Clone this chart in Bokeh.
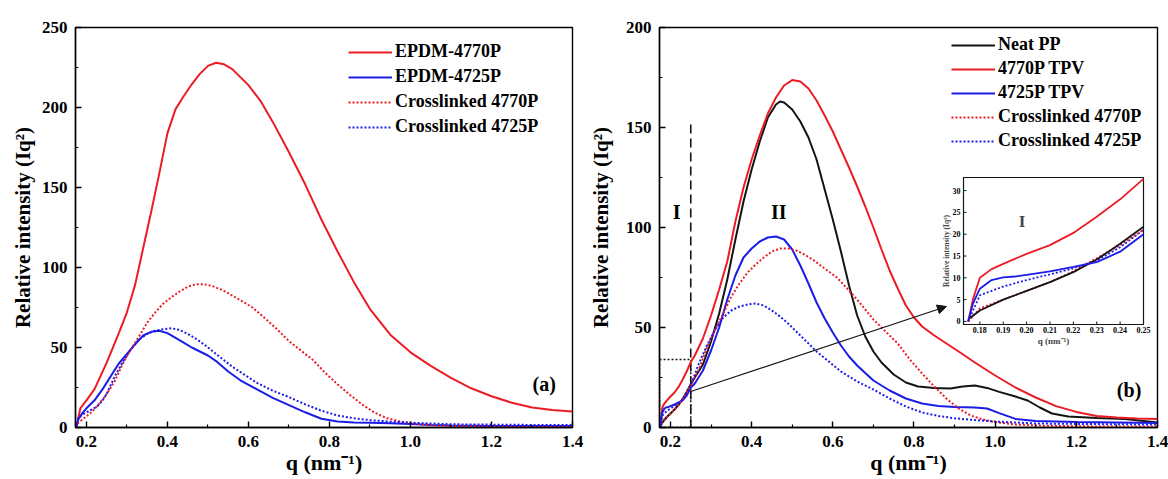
import math
from bokeh.plotting import figure
from bokeh.models import (Range1d, Legend, LegendItem, Label, Arrow, NormalHead,
                          FixedTicker, NumeralTickFormatter, ColumnDataSource)
from bokeh.layouts import row
from bokeh.core.properties import value
from bokeh.embed import file_html
from bokeh.resources import INLINE

# ---------------- data ----------------
# panel (a)
Q_EPDM_70 = [0.175, 0.185, 0.20, 0.22, 0.25, 0.28, 0.30, 0.32, 0.34, 0.36, 0.38, 0.40, 0.42, 0.44,
             0.46, 0.48, 0.50, 0.52, 0.54, 0.56, 0.58, 0.60, 0.63, 0.66, 0.70, 0.74, 0.78, 0.82,
             0.86, 0.90, 0.95, 1.00, 1.05, 1.10, 1.15, 1.20, 1.25, 1.30, 1.35, 1.40]
I_EPDM_70 = [0, 12, 17, 24, 40.5, 59, 72, 89, 112, 135, 159, 184, 199, 207,
             214.5, 221, 226, 228, 227, 224, 219, 214, 204, 191, 172, 152, 130, 110,
             91, 74, 58, 47, 38.5, 31, 24.5, 19.5, 15.5, 12.5, 11, 10]

Q_EPDM_25 = [0.175, 0.18, 0.19, 0.20, 0.22, 0.24, 0.26, 0.28, 0.30, 0.32, 0.34, 0.36, 0.38, 0.40,
             0.42, 0.44, 0.46, 0.48, 0.50, 0.52, 0.55, 0.58, 0.62, 0.66, 0.70, 0.74, 0.78, 0.82,
             0.86, 0.90, 0.95, 1.00, 1.05, 1.10, 1.20, 1.30, 1.40]
I_EPDM_25 = [0, 5, 9, 12, 17, 24, 32, 40, 46, 52, 57.5, 59.8, 60.5, 59,
             56, 53, 50, 47.5, 45, 41.5, 35, 29.5, 24, 18.5, 14, 9.5, 5.5, 3.8,
             3.2, 3, 2.6, 2.2, 1.6, 1.2, 1, 1, 1]

# crosslinked rubbers (both panels)
Q_XL_70 = [0.175, 0.18, 0.19, 0.20, 0.21, 0.22, 0.23, 0.24, 0.25, 0.27, 0.29, 0.31, 0.33, 0.35,
           0.37, 0.39, 0.41, 0.43, 0.45, 0.47, 0.49, 0.51, 0.53, 0.55, 0.58, 0.61, 0.64, 0.67,
           0.70, 0.73, 0.76, 0.79, 0.82, 0.85, 0.88, 0.91, 0.94, 0.97, 1.00, 1.05, 1.10, 1.20,
           1.30, 1.40]
I_XL_70 = [0, 3, 5, 7, 9, 11.5, 14.5, 17.5, 21, 29, 40, 49, 57, 65.5,
           72, 77.5, 81.5, 85, 88, 89.5, 89.5, 88.5, 86.5, 84, 79.5, 75, 68.5, 61.5,
           54, 48, 42, 34, 27, 20.5, 14.5, 9.5, 6, 4, 2.7, 1.5, 1, 0.6,
           0.5, 0.5]

Q_XL_25 = [0.175, 0.18, 0.19, 0.20, 0.21, 0.22, 0.23, 0.24, 0.25, 0.27, 0.29, 0.31, 0.33, 0.35,
           0.37, 0.39, 0.41, 0.43, 0.45, 0.47, 0.49, 0.51, 0.53, 0.56, 0.59, 0.62, 0.66, 0.70,
           0.74, 0.78, 0.82, 0.86, 0.90, 0.95, 1.00, 1.10, 1.20, 1.30, 1.40]
I_XL_25 = [0, 6, 8, 9.5, 10.8, 12.2, 14, 17, 21, 32, 41, 49, 55, 58.5,
           60.5, 61.5, 62, 61, 58.5, 55.5, 52, 48, 44, 38, 33, 28, 23, 19,
           14.5, 10.5, 7.5, 5.8, 4.6, 3.7, 3, 2, 1.8, 1.6, 1.5]

# panel (b)
Q_PP = [0.175, 0.18, 0.19, 0.20, 0.21, 0.22, 0.23, 0.24, 0.25, 0.26, 0.28, 0.30, 0.32, 0.34,
        0.36, 0.38, 0.40, 0.42, 0.44, 0.46, 0.47, 0.48, 0.50, 0.52, 0.54, 0.56, 0.58, 0.60,
        0.62, 0.64, 0.66, 0.68, 0.70, 0.72, 0.75, 0.78, 0.81, 0.85, 0.89, 0.92, 0.95, 0.98,
        1.01, 1.05, 1.08, 1.11, 1.14, 1.18, 1.25, 1.32, 1.40]
I_PP = [0.5, 2.5, 5, 7, 9, 11.3, 14.2, 17.8, 21.7, 25, 31.5, 43, 57, 74,
        94, 113, 129, 143, 155, 161.5, 163, 162.5, 159, 153, 145, 134, 119, 104,
        88, 71, 56, 45.5, 38, 32.5, 26.5, 22.5, 20.5, 19.7, 19.5, 20.5, 21, 19.8,
        17.8, 15.5, 13.5, 10, 7, 5.5, 4.8, 4.2, 2.5]

Q_TPV_70 = [0.175, 0.177, 0.18, 0.185, 0.19, 0.20, 0.21, 0.22, 0.23, 0.24, 0.25, 0.26, 0.28, 0.30,
            0.32, 0.34, 0.36, 0.38, 0.40, 0.42, 0.44, 0.46, 0.48, 0.50, 0.52, 0.54, 0.56, 0.58,
            0.60, 0.62, 0.64, 0.66, 0.68, 0.70, 0.72, 0.74, 0.76, 0.78, 0.80, 0.82, 0.85, 0.88,
            0.91, 0.95, 1.00, 1.05, 1.10, 1.15, 1.20, 1.25, 1.30, 1.35, 1.40]
I_TPV_70 = [0, 5, 10, 12, 13.2, 15.5, 17.5, 20.3, 24, 28, 32.7, 36, 44.5, 56,
            69, 83, 103, 120, 134, 146, 157, 165, 171, 173.7, 173, 169.5, 163.5, 156,
            148, 139, 130, 120.5, 110.5, 100, 89, 78.5, 69.5, 61, 55, 50.5, 46, 42,
            38, 32.5, 26, 20, 15, 10.7, 7.8, 5.8, 5, 4.5, 4.2]

Q_TPV_25 = [0.175, 0.177, 0.18, 0.185, 0.19, 0.195, 0.20, 0.21, 0.22, 0.23, 0.24, 0.25, 0.26, 0.28,
            0.30, 0.32, 0.34, 0.36, 0.38, 0.40, 0.42, 0.44, 0.46, 0.48, 0.50, 0.52, 0.54, 0.56,
            0.58, 0.60, 0.62, 0.64, 0.66, 0.70, 0.74, 0.78, 0.82, 0.86, 0.90, 0.95, 0.98, 1.01,
            1.05, 1.10, 1.20, 1.30, 1.40]
I_TPV_25 = [0, 4, 7.5, 9.5, 10.1, 10.3, 10.7, 11.5, 12.5, 13.6, 16, 20, 22, 28.5,
            38.5, 50, 64, 76, 85, 89.5, 93, 95, 95.5, 94, 89, 81, 72, 62.5,
            54.5, 47.5, 41, 35.5, 31, 23.5, 18.5, 14.5, 12, 10.8, 10.2, 10, 9.5, 7.2,
            4.3, 3.2, 2.8, 2.5, 2.2]

# axes / ticks
X_RANGE = (0.173, 1.4)
X_TICKS = [0.2, 0.4, 0.6, 0.8, 1.0, 1.2, 1.4]
X_MINOR = [0.3, 0.5, 0.7, 0.9, 1.1, 1.3]
YA_RANGE = (0, 250)
YA_TICKS = [0, 50, 100, 150, 200, 250]
YA_MINOR = [25, 75, 125, 175, 225]
YB_RANGE = (0, 200)
YB_TICKS = [0, 50, 100, 150, 200]
YB_MINOR = [25, 75, 125, 175]
INSET_X_RANGE = (0.173, 0.25)
INSET_Y_RANGE = (-0.7, 33)
INSET_X_TICKS = [0.18, 0.19, 0.20, 0.21, 0.22, 0.23, 0.24, 0.25]
INSET_Y_TICKS = [0, 5, 10, 15, 20, 25, 30]

# annotations (panel b)
ZOOM_Q = (0.173, 0.25)
ZOOM_TOP = 34
DASH_TOP = 153
ARROW = (0.25, 18, 0.88, 60.5)

# ---------------- style ----------------
FONT = "Liberation Serif"
RED = "#ec1c24"
BLUE = "#1c1ce8"
BLACK = "#141414"
XLABEL = "q (nm\u207b\u00b9)"
YLABEL = "Relative intensity (Iq\u00b2)"
FH = 400


def style(p, yt, ym, ylab_standoff):
    p.outline_line_color = "black"
    p.outline_line_width = 1.4
    p.outline_line_alpha = 1.0
    p.xgrid.visible = False
    p.ygrid.visible = False
    p.xaxis.ticker = FixedTicker(ticks=X_TICKS, minor_ticks=X_MINOR)
    p.yaxis.ticker = FixedTicker(ticks=yt, minor_ticks=ym)
    p.xaxis.formatter = NumeralTickFormatter(format="0.0")
    p.yaxis.formatter = NumeralTickFormatter(format="0")
    for ax in list(p.xaxis) + list(p.yaxis):
        ax.axis_line_width = 1.4
        ax.axis_line_color = "black"
        ax.major_tick_line_width = 1.4
        ax.minor_tick_line_width = 1.2
        ax.major_tick_in = 6
        ax.major_tick_out = 0
        ax.minor_tick_in = 3
        ax.minor_tick_out = 0
        ax.major_label_text_font = FONT
        ax.major_label_text_font_size = "17px"
        ax.major_label_text_font_style = "bold"
        ax.major_label_text_color = "black"
        ax.axis_label_text_font = FONT
        ax.axis_label_text_font_style = "bold"
        ax.axis_label_text_color = "black"
    p.xaxis.axis_label = XLABEL
    p.xaxis.axis_label_text_font_size = "22px"
    p.xaxis.major_label_standoff = 8
    p.xaxis.axis_label_standoff = 0
    p.yaxis.axis_label = YLABEL
    p.yaxis.axis_label_text_font_size = "21px"
    p.yaxis.major_label_standoff = 8
    p.yaxis.axis_label_standoff = ylab_standoff


def make_legend(items, x, y_bottom, pitch_h, spacing):
    return Legend(items=items, location=(x, y_bottom), orientation="vertical",
                  background_fill_alpha=0, border_line_alpha=0, padding=0, margin=0,
                  spacing=spacing, label_height=pitch_h, glyph_height=pitch_h,
                  glyph_width=44, label_standoff=3,
                  label_text_font=FONT, label_text_font_size="18px",
                  label_text_font_style="bold", label_text_color="black")


def tag(p, x, y, text, size, **kw):
    p.add_layout(Label(x=x, y=y, text=text, text_font=FONT, text_font_size=size,
                       text_font_style="bold", text_color="black",
                       text_align="center", text_baseline="middle", **kw))


# ---------------- panel (a) ----------------
pa = figure(frame_width=497, frame_height=FH, min_border_left=75, min_border_right=12,
            min_border_top=27, min_border_bottom=51, title=None,
            x_range=Range1d(*X_RANGE), y_range=Range1d(*YA_RANGE),
            output_backend="svg", toolbar_location=None)
style(pa, YA_TICKS, YA_MINOR, 4)

ra1 = pa.line(Q_EPDM_70, I_EPDM_70, line_color=RED, line_width=2)
ra2 = pa.line(Q_EPDM_25, I_EPDM_25, line_color=BLUE, line_width=2)
ra3 = pa.line(Q_XL_70, I_XL_70, line_color=RED, line_width=2, line_dash="2 2")
ra4 = pa.line(Q_XL_25, I_XL_25, line_color=BLUE, line_width=2, line_dash="2 2")

la = make_legend([LegendItem(label="EPDM-4770P", renderers=[ra1]),
                  LegendItem(label="EPDM-4725P", renderers=[ra2]),
                  LegendItem(label="Crosslinked 4770P", renderers=[ra3]),
                  LegendItem(label="Crosslinked 4725P", renderers=[ra4])],
                 273, FH - 18 - (4 * 20 + 3 * 4), 20, 4)
pa.add_layout(la)
tag(pa, 1.33, 27, "(a)", "20px")

# ---------------- panel (b) ----------------
FW_B = 498
pb = figure(frame_width=FW_B, frame_height=FH, min_border_left=75, min_border_right=11,
            min_border_top=23, min_border_bottom=55, title=None,
            x_range=Range1d(*X_RANGE), y_range=Range1d(*YB_RANGE),
            output_backend="svg", toolbar_location=None)
style(pb, YB_TICKS, YB_MINOR, 10)

# zoom box, dashed divider and arrow
pb.quad(left=[ZOOM_Q[0]], right=[ZOOM_Q[1]], bottom=[0], top=[ZOOM_TOP], fill_alpha=0,
        line_color=BLACK, line_width=1.5, line_dash="2 2")
pb.segment(x0=[ZOOM_Q[1]], y0=[0], x1=[ZOOM_Q[1]], y1=[DASH_TOP], line_color=BLACK,
           line_width=1.6, line_dash="9 5")

rb1 = pb.line(Q_PP, I_PP, line_color=BLACK, line_width=2)
rb2 = pb.line(Q_TPV_70, I_TPV_70, line_color=RED, line_width=2)
rb3 = pb.line(Q_TPV_25, I_TPV_25, line_color=BLUE, line_width=2)
rb4 = pb.line(Q_XL_70, I_XL_70, line_color=RED, line_width=2, line_dash="2 2")
rb5 = pb.line(Q_XL_25, I_XL_25, line_color=BLUE, line_width=2, line_dash="2 2")

pb.add_layout(Arrow(end=NormalHead(size=9, fill_color=BLACK, line_color=BLACK),
                    x_start=ARROW[0], y_start=ARROW[1], x_end=ARROW[2], y_end=ARROW[3],
                    line_color=BLACK, line_width=1.2))

lb = make_legend([LegendItem(label="Neat PP", renderers=[rb1]),
                  LegendItem(label="4770P TPV", renderers=[rb2]),
                  LegendItem(label="4725P TPV", renderers=[rb3]),
                  LegendItem(label="Crosslinked 4770P", renderers=[rb4]),
                  LegendItem(label="Crosslinked 4725P", renderers=[rb5])],
                 292, FH - 12 - (5 * 20 + 4 * 3), 20, 3)
pb.add_layout(lb)

tag(pb, 0.215, 108, "I", "20px")
tag(pb, 0.467, 108, "II", "20px")
tag(pb, 1.33, 19, "(b)", "20px")

# ---------------- inset (drawn in panel b through extra ranges) ----------------
IL, IR, IT, IB = 304, 484, 150, 297   # inset box, px from the frame's top-left corner
sx = (INSET_X_RANGE[1] - INSET_X_RANGE[0]) / (IR - IL)
sy = (INSET_Y_RANGE[1] - INSET_Y_RANGE[0]) / (IB - IT)
pb.extra_x_ranges = {"ix": Range1d(INSET_X_RANGE[0] - IL * sx, INSET_X_RANGE[1] + (FW_B - IR) * sx)}
pb.extra_y_ranges = {"iy": Range1d(INSET_Y_RANGE[0] - (FH - IB) * sy, INSET_Y_RANGE[1] + IT * sy)}
IK = dict(x_range_name="ix", y_range_name="iy")

pb.quad(left=[INSET_X_RANGE[0]], right=[INSET_X_RANGE[1]], bottom=[INSET_Y_RANGE[0]],
        top=[INSET_Y_RANGE[1]], fill_color="white", line_color=BLACK, line_width=1.2, **IK)


def low(q, v, qmax=INSET_X_RANGE[1]):
    pts = [(a, b) for a, b in zip(q, v) if a <= qmax + 1e-9]
    return [a for a, _ in pts], [b for _, b in pts]


for (q, v), col, dash in [((Q_TPV_70, I_TPV_70), RED, "solid"),
                          ((Q_XL_25, I_XL_25), BLUE, "2 2"),
                          ((Q_XL_70, I_XL_70), RED, "2 2"),
                          ((Q_PP, I_PP), BLACK, "solid"),
                          ((Q_TPV_25, I_TPV_25), BLUE, "solid")]:
    xq, yv = low(q, v)
    pb.line(xq, yv, line_color=col, line_width=1.8, line_dash=dash, **IK)

# inset ticks
pb.ray(x=INSET_X_TICKS, y=[INSET_Y_RANGE[0]] * len(INSET_X_TICKS), length=3,
       length_units="screen", angle=math.pi / 2, line_color=BLACK, line_width=1, **IK)
pb.ray(x=[INSET_X_RANGE[0]] * len(INSET_Y_TICKS), y=INSET_Y_TICKS, length=3,
       length_units="screen", angle=0, line_color=BLACK, line_width=1, **IK)

xt_src = ColumnDataSource(dict(x=INSET_X_TICKS, y=[INSET_Y_RANGE[0]] * len(INSET_X_TICKS),
                               t=[f"{t:.2f}" for t in INSET_X_TICKS]))
pb.text(x="x", y="y", text="t", source=xt_src, text_font=value(FONT), text_font_size="8px",
        text_font_style="bold", text_color="black", text_align="center",
        text_baseline="top", y_offset=2, **IK)
yt_src = ColumnDataSource(dict(x=[INSET_X_RANGE[0]] * len(INSET_Y_TICKS), y=INSET_Y_TICKS,
                               t=[str(t) for t in INSET_Y_TICKS]))
pb.text(x="x", y="y", text="t", source=yt_src, text_font=value(FONT), text_font_size="8px",
        text_font_style="bold", text_color="black", text_align="right",
        text_baseline="middle", x_offset=-3, **IK)

pb.add_layout(Label(x=(INSET_X_RANGE[0] + INSET_X_RANGE[1]) / 2, y=INSET_Y_RANGE[0],
                    y_offset=-11, text=XLABEL, text_font=FONT, text_font_size="9px",
                    text_font_style="bold", text_align="center", text_baseline="top",
                    x_range_name="ix", y_range_name="iy"))
pb.add_layout(Label(x=INSET_X_RANGE[0], y=(INSET_Y_RANGE[0] + INSET_Y_RANGE[1]) / 2,
                    x_offset=-17, angle=math.pi / 2, text=YLABEL, text_font=FONT,
                    text_font_size="7.5px", text_font_style="bold", text_align="center",
                    text_baseline="middle", x_range_name="ix", y_range_name="iy"))
pb.add_layout(Label(x=0.198, y=23, text="I", text_font=FONT, text_font_size="17px",
                    text_font_style="bold", text_align="center", text_baseline="middle",
                    x_range_name="ix", y_range_name="iy"))

p = row(pa, pb)
open("out.html", "w").write(file_html(p, INLINE))
